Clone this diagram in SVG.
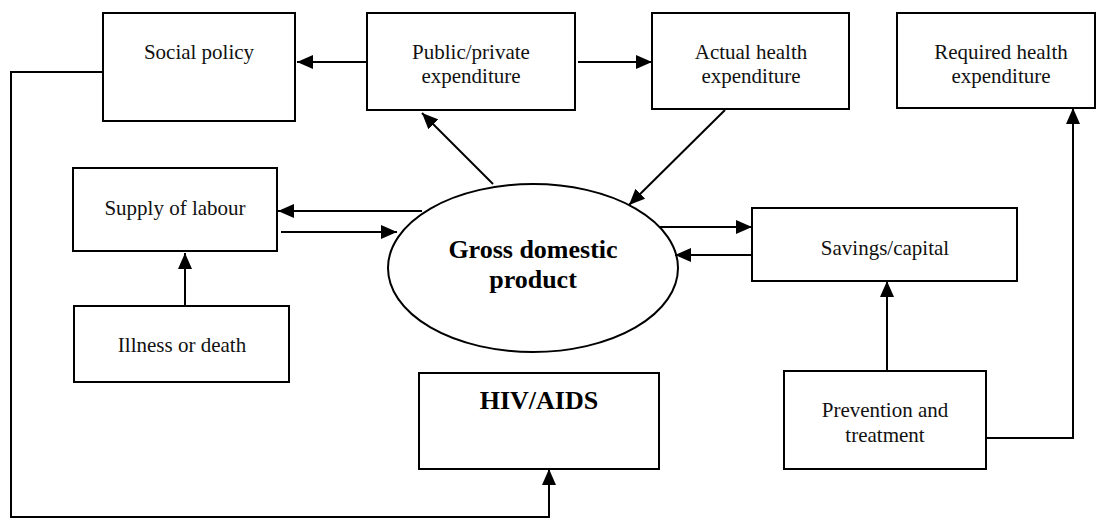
<svg xmlns="http://www.w3.org/2000/svg" width="1096" height="518" viewBox="0 0 1096 518">
<style>
.box{fill:#fff;stroke:#000;stroke-width:2}
.t{font-family:"Liberation Serif","Times New Roman",serif;font-size:21px;fill:#111;text-anchor:middle}
.b{font-family:"Liberation Serif","Times New Roman",serif;font-size:26px;font-weight:bold;fill:#000;text-anchor:middle}
.c{fill:none;stroke:#000;stroke-width:2}
</style>
<defs>
<marker id="ah" markerUnits="userSpaceOnUse" markerWidth="16" markerHeight="14" refX="16" refY="7" orient="auto" viewBox="0 0 16 14">
<path d="M0,0 L16,7 L0,14 z" fill="#000"/>
</marker>
</defs>
<rect width="1096" height="518" fill="#fff"/>
<g id="social-policy"><rect class="box" x="103" y="13" width="192" height="108"/><text class="t" x="199" y="59">Social policy</text></g>
<g id="public-private"><rect class="box" x="367" y="13" width="208" height="97"/><text class="t" x="471" y="59">Public/private</text><text class="t" x="471" y="83">expenditure</text></g>
<g id="actual-health"><rect class="box" x="652" y="13" width="197" height="96"/><text class="t" x="751" y="59">Actual health</text><text class="t" x="751" y="83">expenditure</text></g>
<g id="required-health"><rect class="box" x="897" y="13" width="198" height="95"/><text class="t" x="1001" y="59">Required health</text><text class="t" x="1001" y="83">expenditure</text></g>
<g id="supply-labour"><rect class="box" x="73" y="168" width="204" height="83"/><text class="t" x="175" y="215">Supply of labour</text></g>
<g id="gdp"><ellipse fill="#fff" stroke="#000" stroke-width="2" cx="533" cy="268" rx="145" ry="84"/><text class="b" x="533" y="258">Gross domestic</text><text class="b" x="533" y="288">product</text></g>
<g id="savings"><rect class="box" x="752" y="208" width="265" height="73"/><text class="t" x="885" y="255">Savings/capital</text></g>
<g id="illness"><rect class="box" x="74" y="306" width="215" height="76"/><text class="t" x="182" y="352">Illness or death</text></g>
<g id="hiv"><rect class="box" x="419" y="373" width="240" height="96"/><text class="b" x="539" y="409">HIV/AIDS</text></g>
<g id="prevention"><rect class="box" x="784" y="371" width="202" height="98"/><text class="t" x="885" y="417">Prevention and</text><text class="t" x="885" y="442">treatment</text></g>
<g id="connectors">
<line class="c" x1="367" y1="62" x2="297" y2="62" marker-end="url(#ah)"/>
<line class="c" x1="578" y1="62" x2="652" y2="62" marker-end="url(#ah)"/>
<line class="c" x1="493" y1="184" x2="422" y2="113" marker-end="url(#ah)"/>
<line class="c" x1="725" y1="110" x2="629" y2="205" marker-end="url(#ah)"/>
<line class="c" x1="422" y1="211" x2="278" y2="211" marker-end="url(#ah)"/>
<line class="c" x1="281" y1="232" x2="397" y2="232" marker-end="url(#ah)"/>
<line class="c" x1="185" y1="306" x2="185" y2="253" marker-end="url(#ah)"/>
<line class="c" x1="660" y1="227" x2="752" y2="227" marker-end="url(#ah)"/>
<line class="c" x1="752" y1="255" x2="675" y2="255" marker-end="url(#ah)"/>
<line class="c" x1="887" y1="371" x2="887" y2="281" marker-end="url(#ah)"/>
<polyline class="c" points="986,438 1073,438 1073,108" marker-end="url(#ah)"/>
<polyline class="c" points="103,72 11,72 11,517 549,517 549,469" marker-end="url(#ah)"/>
</g>
</svg>
